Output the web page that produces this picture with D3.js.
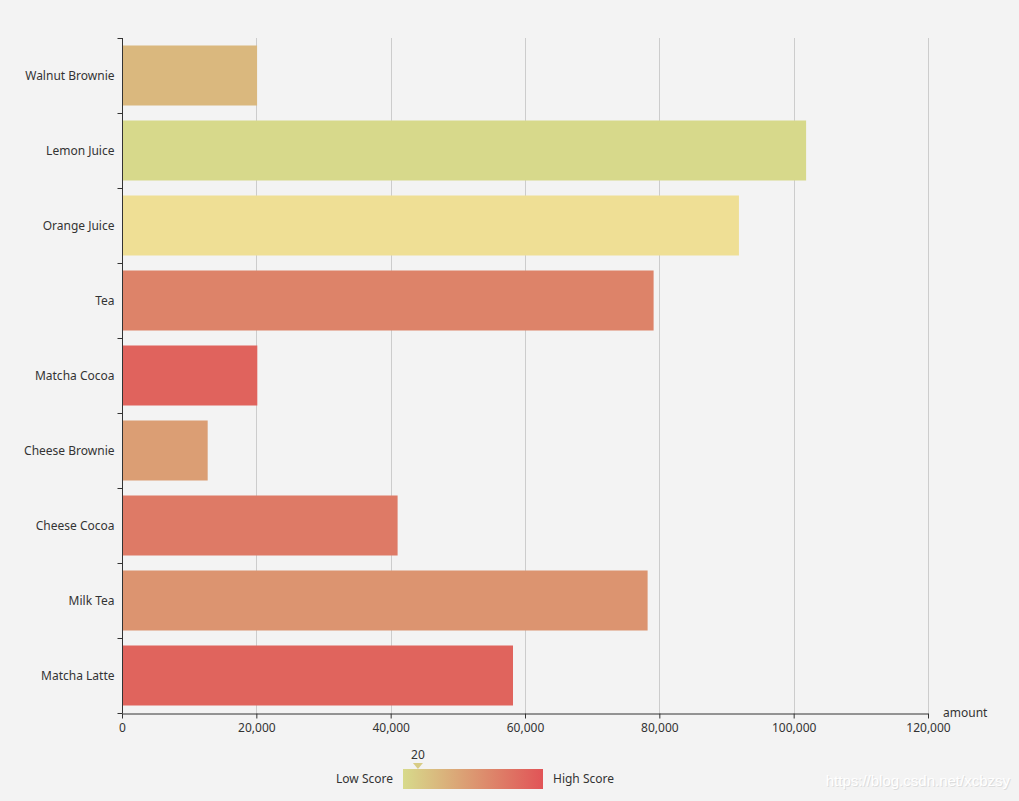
<!DOCTYPE html>
<html><head><meta charset="utf-8">
<script src="https://cdn.jsdelivr.net/npm/d3@7/dist/d3.min.js"></script>
<style>
html,body{margin:0;padding:0;background:#f3f3f3;}
svg{display:block;font-family:"Noto Sans","Open Sans",sans-serif;}
</style></head>
<body><svg id="c" width="1019" height="801"></svg>
<script>
const products = ['Matcha Latte','Milk Tea','Cheese Cocoa','Cheese Brownie','Matcha Cocoa','Tea','Orange Juice','Lemon Juice','Walnut Brownie'];
const amounts  = [58212, 78254, 41032, 12755, 20145, 79146, 91852, 101852, 20112];
const scores   = [89.3, 57.1, 74.4, 50.1, 89.7, 68.1, 19.6, 10.6, 32.7];
const xTicks = [0, 20000, 40000, 60000, 80000, 100000, 120000];
const scoreRange = [10, 100];
const rangeColors = ['#D7DA8B', '#E15457'];
const hovered = 'Orange Juice';

(function(){
const svg = d3.select('#c');
const L = 122, R = 928, T = 38, B = 713;
const hoverFill = '#EFDF95';

const x = d3.scaleLinear().domain([0, 120000]).range([L, R]);
const y = d3.scaleBand().domain(products.slice().reverse()).range([T, B]).paddingInner(0.2).paddingOuter(0.1);
const yb = d3.scaleBand().domain(products.slice().reverse()).range([T, B]);
const color = d3.scaleLinear().domain(scoreRange).range(rangeColors).interpolate(d3.interpolateRgb).clamp(true);

// grid
svg.append('g').selectAll('line').data(xTicks.slice(1)).join('line')
  .attr('x1', d => Math.round(x(d)) + 0.5).attr('x2', d => Math.round(x(d)) + 0.5).attr('y1', T).attr('y2', B)
  .attr('stroke', '#ccc').attr('stroke-width', 1);

// bars
const rows = products.map((p, i) => ({p, a: amounts[i], s: scores[i]}));
svg.append('g').selectAll('rect').data(rows).join('rect')
  .attr('x', x(0)).attr('y', d => y(d.p)).attr('height', y.bandwidth())
  .attr('width', d => x(d.a) - x(0))
  .attr('fill', d => d.p === hovered ? hoverFill : color(d.s));

// y axis
const yAxis = svg.append('g').attr('transform', `translate(${L + 0.5},0)`);
yAxis.append('line').attr('x1',0).attr('x2',0).attr('y1',T).attr('y2',B).attr('stroke','#333');
const bounds = yb.domain().map(d => yb(d)).concat([B]);
yAxis.selectAll('line.t').data(bounds).join('line').attr('class','t')
  .attr('x1',-5).attr('x2',0).attr('y1',d=>Math.round(d)+0.5).attr('y2',d=>Math.round(d)+0.5).attr('stroke','#333');
yAxis.selectAll('text').data(yb.domain()).join('text')
  .attr('x', -8).attr('y', d => yb(d) + yb.bandwidth()/2).attr('dy','0.35em')
  .attr('text-anchor','end').attr('font-size',12).attr('fill','#333').text(d => d);

// x axis
const xAxis = svg.append('g').attr('transform', `translate(0,${B + 0.5})`)
  .call(d3.axisBottom(x).tickValues(xTicks).tickFormat(d3.format(',')).tickSize(5).tickSizeOuter(0));
xAxis.select('.domain').attr('stroke','#333');
xAxis.selectAll('.tick line').attr('stroke','#333');
xAxis.selectAll('.tick text').attr('font-size',12).attr('fill','#333').attr('dy','0.9em').attr('font-family','"Noto Sans","Open Sans",sans-serif');
svg.append('text').attr('x', R + 15).attr('y', B).attr('dy','0.35em')
  .attr('font-size',12).attr('fill','#333').text('amount');

// visual map
const vmX = 403, vmY = 769, vmW = 140, vmH = 20;
const defs = svg.append('defs');
const grad = defs.append('linearGradient').attr('id','vg').attr('x1','0%').attr('x2','100%');
grad.append('stop').attr('offset','0%').attr('stop-color',rangeColors[0]);
grad.append('stop').attr('offset','100%').attr('stop-color',rangeColors[1]);
svg.append('rect').attr('x',vmX).attr('y',vmY).attr('width',vmW).attr('height',vmH).attr('fill','url(#vg)');
svg.append('text').attr('x', vmX - 10).attr('y', vmY + vmH/2).attr('dy','0.35em').attr('text-anchor','end')
  .attr('font-size',12).attr('fill','#333').text('Low Score');
svg.append('text').attr('x', vmX + vmW + 10).attr('y', vmY + vmH/2).attr('dy','0.35em').attr('text-anchor','start')
  .attr('font-size',12).attr('fill','#333').text('High Score');
const vmScale = d3.scaleLinear().domain(scoreRange).range([vmX, vmX + vmW]);
const hs = scores[products.indexOf(hovered)];
const hx = vmScale(hs);
svg.append('path').attr('d', `M${hx-5},${vmY-6}L${hx+5},${vmY-6}L${hx},${vmY}Z`).attr('fill', color(hs));
svg.append('text').attr('x', hx).attr('y', vmY - 10).attr('text-anchor','middle')
  .attr('font-size',12).attr('fill','#333').text(Math.round(hs));

// watermark
const wm = svg.append('g').attr('font-family','"Liberation Sans",Arial,sans-serif').attr('font-size',15).attr('text-anchor','end');
wm.append('text').attr('x', 1011).attr('y', 787).attr('fill','#dcdcdc').text('https://blog.csdn.net/xcbzsy');
wm.append('text').attr('x', 1010).attr('y', 786).attr('fill','#ffffff').text('https://blog.csdn.net/xcbzsy');
})();
</script></body></html>
